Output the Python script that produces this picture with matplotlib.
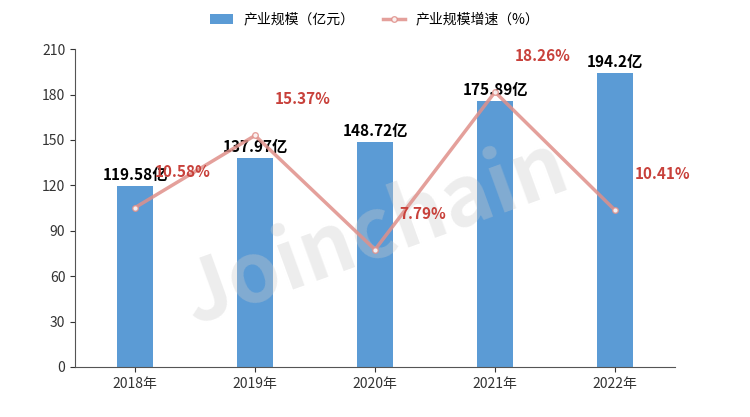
import matplotlib
matplotlib.use("Agg")
import matplotlib.pyplot as plt

plt.rcParams['font.family'] = ['Noto Sans CJK SC', 'DejaVu Sans']

years = ['2018年', '2019年', '2020年', '2021年', '2022年']
scale = [119.58, 137.97, 148.72, 175.89, 194.2]
scale_labels = ['119.58亿', '137.97亿', '148.72亿', '175.89亿', '194.2亿']
growth = [10.58, 15.37, 7.79, 18.26, 10.41]

fig = plt.figure(figsize=(7.5, 4.17), dpi=100)
ax = fig.add_axes([0.1, 0.12, 0.8, 0.762])
x = list(range(len(years)))
bars = ax.bar(x, scale, width=0.3, color='#5b9bd5', label='产业规模（亿元）', zorder=2)
ax.set_ylim(0, 210)
ax.set_yticks(range(0, 211, 30))
ax.set_xlim(-0.5, 4.5)
ax.set_xticks(x)
ax.set_xticklabels(years)
for s in ['top', 'right']:
    ax.spines[s].set_visible(False)
ax.spines['left'].set_color('#555555')
ax.spines['bottom'].set_color('#555555')
ax.tick_params(colors='#333333', labelsize=10)
for xi, v, lab in zip(x, scale, scale_labels):
    ax.text(xi, v + 2, lab, ha='center', va='bottom', fontsize=11, fontweight='bold',
            color='black', zorder=5)

ax.text(0.5, 0.42, 'Joinchain', transform=ax.transAxes, fontsize=60, fontweight='bold',
        color='#cccccc', alpha=0.35, rotation=20, ha='center', va='center', zorder=3)

ax2 = ax.twinx()
ax2.set_ylim(0, 21.1)
ax2.axis('off')
ln, = ax2.plot(x, growth, color='#e0908a', lw=2.5, alpha=0.85, marker='o', ms=4,
               mfc='white', mec='#e0908a', label='产业规模增速（%）', zorder=3)
for xi, g in zip(x, growth):
    ax2.annotate(f'{g:.2f}%', (xi, g), xytext=(34, 26), textcoords='offset points',
                 ha='center', va='center', color='#c8413b', fontsize=11, fontweight='bold',
                 zorder=6)

fig.legend([bars, ln], ['产业规模（亿元）', '产业规模增速（%）'], loc='upper center',
           ncol=2, frameon=False, fontsize=10, bbox_to_anchor=(0.5, 1.0), handlelength=1.6)

fig.savefig('out.png', dpi=100)
